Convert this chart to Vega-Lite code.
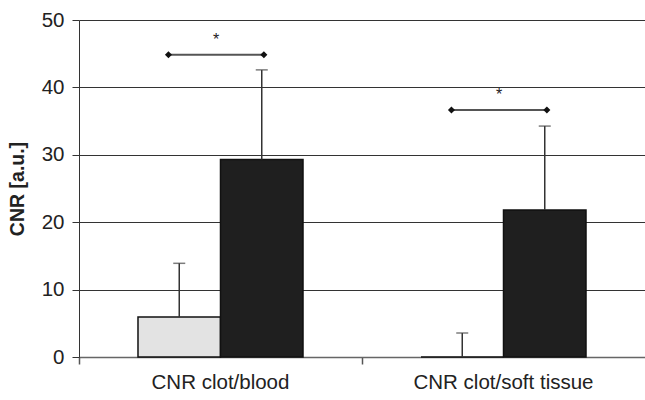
{
  "$schema": "https://vega.github.io/schema/vega-lite/v6.json",
  "width": 566,
  "height": 337,
  "autosize": {"type": "none"},
  "padding": {"left": 79, "top": 20, "right": 0, "bottom": 43},
  "background": "white",
  "config": {"view": {"stroke": null}, "font": "Liberation Sans"},
  "resolve": {"scale": {"xOffset": "independent"}},
  "datasets": {
    "bars": [
      {"group": "CNR clot/blood", "series": "dotted", "value": 5.94, "upper": 13.9},
      {"group": "CNR clot/blood", "series": "black", "value": 29.3, "upper": 42.6},
      {"group": "CNR clot/soft tissue", "series": "dotted", "value": 0, "upper": 3.56},
      {"group": "CNR clot/soft tissue", "series": "black", "value": 21.8, "upper": 34.26}
    ],
    "brackets": [
      {"group": "CNR clot/blood", "end": "L", "y": 44.85},
      {"group": "CNR clot/blood", "end": "R", "y": 44.85},
      {"group": "CNR clot/soft tissue", "end": "L", "y": 36.64},
      {"group": "CNR clot/soft tissue", "end": "R", "y": 36.64}
    ],
    "stars": [
      {"group": "CNR clot/blood", "end": "M", "label": "*", "y": 47.0},
      {"group": "CNR clot/soft tissue", "end": "M", "label": "*", "y": 38.9}
    ]
  },
  "layer": [
    {
      "data": {"name": "bars"},
      "mark": {"type": "bar", "stroke": "#111111", "strokeWidth": 1.5},
      "encoding": {
        "x": {
          "field": "group", "type": "nominal",
          "scale": {"paddingInner": 0, "paddingOuter": 0},
          "axis": {
            "title": null, "labelAngle": 0, "labelFontSize": 20.5, "labelColor": "#222222",
            "labelPadding": 8, "tickSize": 7, "tickColor": "#555555", "tickWidth": 1.5,
            "bandPosition": 0, "domainColor": "#666666", "domainWidth": 1.5, "grid": false
          }
        },
        "xOffset": {"field": "series", "type": "nominal", "scale": {"domain": ["dotted", "black"], "paddingOuter": 0.715, "paddingInner": 0}},
        "y": {
          "field": "value", "type": "quantitative", "title": "CNR [a.u.]",
          "scale": {"domain": [0, 50], "nice": false},
          "axis": {
            "values": [0, 10, 20, 30, 40, 50], "labelFontSize": 20.5, "labelColor": "#222222",
            "labelPadding": 8, "tickSize": 7, "tickColor": "#333333", "domainColor": "#333333",
            "grid": true, "gridColor": "#333333", "gridWidth": 1.2,
            "titleFontSize": 19.5, "titleFontWeight": "bold", "titleColor": "#222222", "titlePadding": 14
          }
        },
        "fill": {"field": "series", "type": "nominal", "scale": {"domain": ["dotted", "black"], "range": ["#e3e3e3", "#1f1f1f"]}, "legend": null}
      }
    },
    {
      "data": {"name": "bars"},
      "mark": {"type": "rule", "color": "#333333", "strokeWidth": 1.5},
      "encoding": {
        "x": {"field": "group", "type": "nominal"},
        "xOffset": {"field": "series", "type": "nominal", "scale": {"domain": ["dotted", "black"], "paddingOuter": 0.715, "paddingInner": 0}},
        "y": {"field": "value", "type": "quantitative", "title": "CNR [a.u.]"},
        "y2": {"field": "upper"}
      }
    },
    {
      "data": {"name": "bars"},
      "mark": {"type": "tick", "color": "#444444", "size": 12, "thickness": 1.5, "orient": "horizontal"},
      "encoding": {
        "x": {"field": "group", "type": "nominal"},
        "xOffset": {"field": "series", "type": "nominal", "scale": {"domain": ["dotted", "black"], "paddingOuter": 0.715, "paddingInner": 0}},
        "y": {"field": "upper", "type": "quantitative", "title": "CNR [a.u.]"}
      }
    },
    {
      "data": {"name": "brackets"},
      "mark": {"type": "line", "color": "#555555", "strokeWidth": 2},
      "encoding": {
        "x": {"field": "group", "type": "nominal"},
        "xOffset": {"field": "end", "type": "nominal", "scale": {"domain": ["a", "b", "c", "L", "d", "M", "e", "R", "f", "g", "h", "i"], "paddingOuter": 0.432, "paddingInner": 0, "align": 0.868}},
        "y": {"field": "y", "type": "quantitative", "title": "CNR [a.u.]"},
        "detail": {"field": "group"}
      }
    },
    {
      "data": {"name": "brackets"},
      "mark": {"type": "point", "shape": "diamond", "filled": true, "color": "#111111", "size": 50, "opacity": 1},
      "encoding": {
        "x": {"field": "group", "type": "nominal"},
        "xOffset": {"field": "end", "type": "nominal", "scale": {"domain": ["a", "b", "c", "L", "d", "M", "e", "R", "f", "g", "h", "i"], "paddingOuter": 0.432, "paddingInner": 0, "align": 0.868}},
        "y": {"field": "y", "type": "quantitative", "title": "CNR [a.u.]"}
      }
    },
    {
      "data": {"name": "stars"},
      "mark": {"type": "text", "fontSize": 16, "color": "#222222", "baseline": "middle"},
      "encoding": {
        "x": {"field": "group", "type": "nominal"},
        "xOffset": {"field": "end", "type": "nominal", "scale": {"domain": ["a", "b", "c", "L", "d", "M", "e", "R", "f", "g", "h", "i"], "paddingOuter": 0.432, "paddingInner": 0, "align": 0.868}},
        "y": {"field": "y", "type": "quantitative", "title": "CNR [a.u.]"},
        "text": {"field": "label"}
      }
    }
  ]
}
